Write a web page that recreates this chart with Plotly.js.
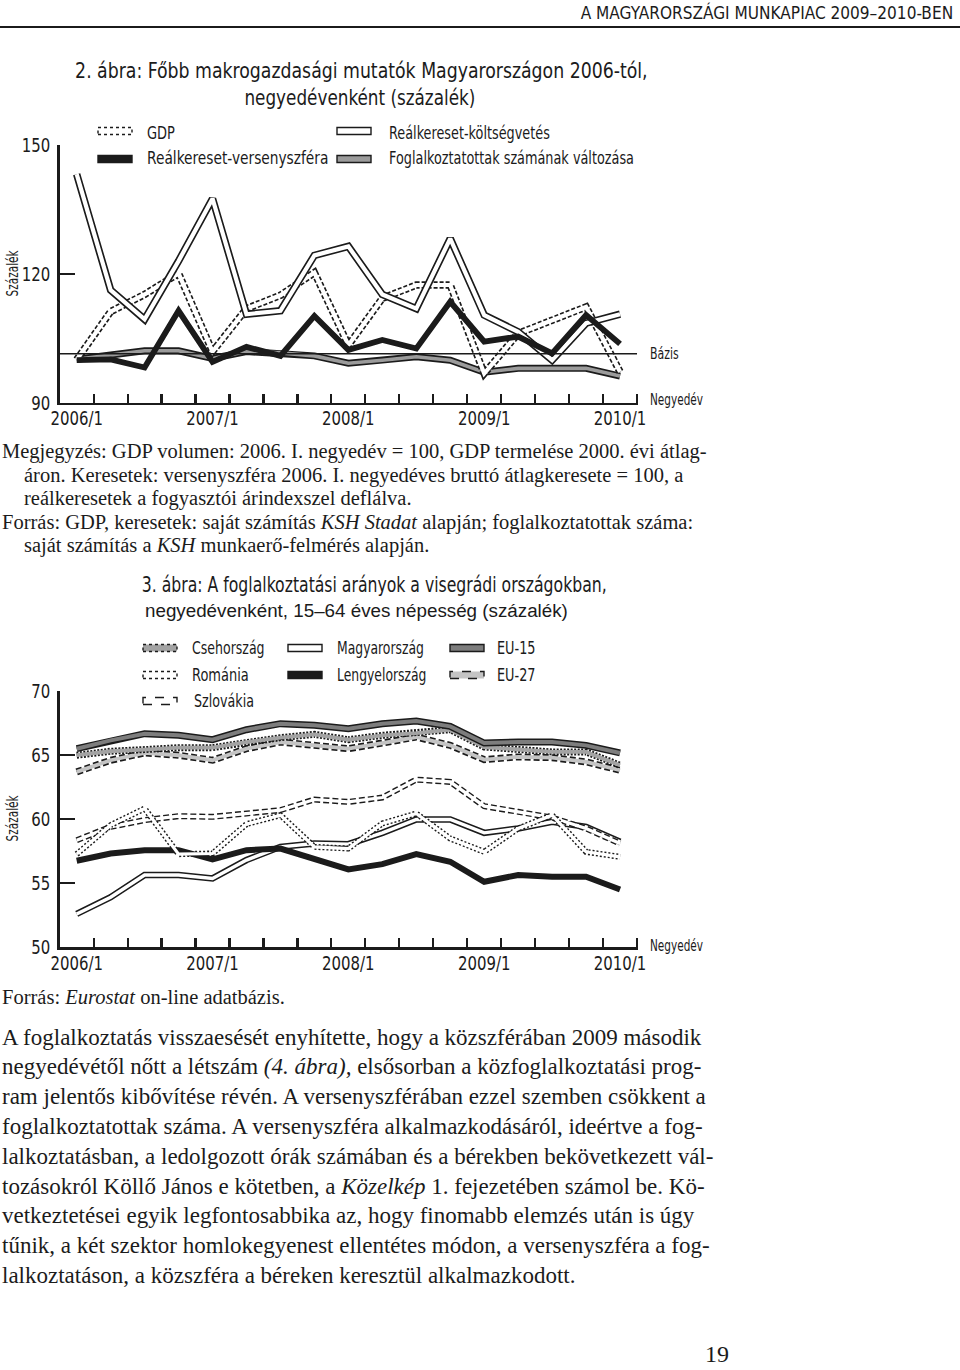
<!DOCTYPE html>
<html><head><meta charset="utf-8">
<script src="https://cdn.plot.ly/plotly-3.0.1.min.js"></script>
<style>html,body{margin:0;padding:0;background:#fff}#chart{width:960px;height:1370px}</style>
</head><body><div id="chart"></div>
<script>
// ---- DATA ----
const quarters = ['2006/1','2006/2','2006/3','2006/4','2007/1','2007/2','2007/3','2007/4','2008/1','2008/2','2008/3','2008/4','2009/1','2009/2','2009/3','2009/4','2010/1'];
// 2. ábra
const gdp        = [100.0, 111.2, 115.2, 120.1, 101.9, 111.9, 115.0, 120.3, 103.4, 114.3, 117.4, 117.4, 96.8, 106.1, 109.2, 112.3, 97.2];
const berVerseny = [99.9, 100.1, 98.2, 111.4, 99.5, 103.0, 100.9, 110.2, 102.3, 104.6, 102.6, 113.5, 104.2, 105.4, 101.5, 110.4, 103.7];
const berKoltseg = [143.2, 116.2, 109.4, 123.0, 137.5, 110.6, 111.4, 124.3, 126.4, 115.2, 111.9, 128.2, 110.4, 106.5, 99.9, 108.5, 110.6];
const foglalk    = [100.1, 101.1, 102.1, 102.1, 100.3, 101.9, 101.6, 100.9, 99.2, 99.9, 100.7, 99.9, 97.1, 98.0, 98.0, 98.0, 96.2];
const bazis = 101.4;
// 3. ábra
const csehorszag   = [64.97, 65.28, 65.41, 65.56, 65.56, 66.0, 66.34, 66.6, 66.18, 66.52, 66.7, 66.96, 65.61, 65.41, 65.23, 65.23, 64.19];
const romania      = [57.26, 59.52, 60.82, 57.26, 57.31, 59.6, 60.3, 57.83, 57.7, 59.65, 60.43, 58.48, 57.44, 59.26, 60.3, 57.44, 57.05];
const szlovakia    = [58.35, 59.39, 59.91, 60.22, 60.17, 60.43, 60.69, 61.52, 61.33, 61.67, 63.07, 62.89, 61.0, 60.56, 60.11, 59.26, 58.09];
const magyarorszag = [52.6, 53.9, 55.63, 55.63, 55.37, 56.8, 57.83, 58.09, 58.04, 58.92, 59.96, 59.96, 58.92, 59.26, 59.78, 59.39, 58.22];
const lengyelorszag= [56.75, 57.31, 57.57, 57.57, 56.85, 57.57, 57.7, 56.92, 56.07, 56.48, 57.26, 56.67, 55.11, 55.63, 55.5, 55.5, 54.51];
const eu15         = [65.48, 66.13, 66.65, 66.52, 66.18, 66.96, 67.43, 67.3, 67.04, 67.43, 67.64, 67.22, 65.92, 66.0, 66.0, 65.74, 65.15];
const eu27         = [63.67, 64.58, 65.15, 64.97, 64.58, 65.48, 66.0, 65.74, 65.48, 65.92, 66.39, 65.74, 64.63, 64.84, 64.78, 64.45, 63.8];
const y1Ticks = [90, 120, 150];
const y2Ticks = [50, 55, 60, 65, 70];

// ---- helpers ----
const W = 960, H = 1370;
const px = x => x / W;
const py = y => 1 - y / H;
const SANS = "'Liberation Sans Narrow', 'DejaVu Sans Condensed', 'Arial Narrow', Roboto, sans-serif";
const SANS_REG = "'Liberation Sans', Arial, sans-serif";
const SERIF = "'Liberation Serif', 'DejaVu Serif', serif";
const INK = '#1b1b1b';
const TICK_SX = 0.83;
const xi = quarters.map((q, i) => i);
const yearIdx = xi.filter(i => quarters[i].endsWith('/1'));
const halfTicks = xi.map(i => i + 0.5);

const traces = [];
function single(y, ax, color, width, dash) {
  traces.push({x: xi, y: y, xaxis: ax[0], yaxis: ax[1], mode: 'lines', hoverinfo: 'skip',
    line: {color: color, width: width, dash: dash || 'solid'}});
}
function dbl(y, ax, outerDash, outerW, innerColor, innerW) {
  single(y, ax, INK, outerW, outerDash);
  single(y, ax, innerColor, innerW);
}
const A1 = ['x', 'y'], A2 = ['x2', 'y2'];
// chart 1
dbl(foglalk, A1, 'solid', 7, '#9b9b9b', 3.6);
dbl(gdp, A1, '4px,2px', 7.5, '#ffffff', 4.2);
dbl(berKoltseg, A1, 'solid', 7.5, '#ffffff', 4.2);
single(berVerseny, A1, INK, 5.8);
// chart 2
dbl(eu27, A2, '6px,3px', 7, '#c4c4c4', 3.8);
dbl(csehorszag, A2, '2px,1.5px', 7, '#a3a3a3', 3.8);
dbl(eu15, A2, 'solid', 7, '#7d7d7d', 4);
dbl(magyarorszag, A2, 'solid', 6.5, '#ffffff', 3.4);
single(lengyelorszag, A2, INK, 6);
dbl(szlovakia, A2, '6px,3px', 6, '#ffffff', 3.2);
dbl(romania, A2, '2px,2px', 6, '#ffffff', 3.2);

const tickFont = {family: SANS, size: 20, color: INK};
function xAxis(anchor) {
  return {domain: [px(59.7), px(637.7)], range: [-0.5, 16.52], anchor: anchor,
    tickmode: 'array', tickvals: yearIdx, ticktext: yearIdx.map(i => quarters[i]),
    ticks: '', showline: true, linecolor: INK, linewidth: 2.5, showgrid: false, zeroline: false,
    tickfont: tickFont, ticklabelstandoff: -4,
    minor: {tickmode: 'array', tickvals: halfTicks, ticks: 'inside', ticklen: 9, tickwidth: 2.2, tickcolor: INK, showgrid: false}};
}
function yAxis(anchor, dom, rng, tv) {
  return {domain: dom, range: rng, anchor: anchor, tickmode: 'array', tickvals: tv,
    ticks: 'inside', ticklen: 15, tickwidth: 2.5, tickcolor: INK, showline: true, linecolor: INK, linewidth: 2.5,
    showgrid: false, zeroline: false, tickfont: tickFont, ticklabelstandoff: 3};
}

const shapes = [];
const annotations = [];
const annMeta = [];
function txt(t, x, y, opts) {
  opts = opts || {};
  annotations.push(Object.assign({text: t, x: px(x), y: py(y), xref: 'paper', yref: 'paper', showarrow: false,
    xanchor: opts.xa || 'left', yanchor: 'middle',
    font: {family: opts.family || SANS, size: opts.size || 17, color: INK}}, opts.extra || {}));
  annMeta.push({sx: opts.sx || 1, xa: opts.xa || 'left'});
}
function sym(x0, y, fill, dash, w) {
  shapes.push({type: 'rect', xref: 'paper', yref: 'paper', x0: px(x0), x1: px(x0 + (w || 34)), y0: py(y + 3.5), y1: py(y - 3.5),
    fillcolor: fill, line: {color: INK, width: 1.4, dash: dash || 'solid'}});
}

// header
txt('A MAGYARORSZÁGI MUNKAPIAC 2009–2010-BEN', 955, 12, {xa: 'right', size: 18, sx: 0.95});
shapes.push({type: 'line', xref: 'paper', yref: 'paper', x0: 0, x1: 1, y0: py(27), y1: py(27), line: {color: INK, width: 2}});

// chart 1 title + legend
txt('2. ábra: Főbb makrogazdasági mutatók Magyarországon 2006-tól,', 361, 70, {xa: 'center', size: 22, sx: 0.875});
txt('negyedévenként (százalék)', 360, 97, {xa: 'center', size: 22, sx: 0.85});
sym(98, 131, '#ffffff', 'dot'); txt('GDP', 145, 133, {sx: 0.85});
sym(98, 159, INK, 'solid'); txt('Reálkereset-versenyszféra', 145, 158, {sx: 0.9});
sym(337, 131, '#ffffff', 'solid'); txt('Reálkereset-költségvetés', 387, 133, {sx: 0.84});
sym(337, 159, '#9b9b9b', 'solid'); txt('Foglalkoztatottak számának változása', 387, 158, {sx: 0.84});
txt('Százalék', 12, 273, {xa: 'center', size: 16, sx: 0.73, extra: {textangle: -90}});
txt('Bázis', 648, 353, {size: 16, sx: 0.76});
txt('Negyedév', 648, 400, {size: 16, sx: 0.73});
shapes.push({type: 'line', xref: 'x', yref: 'y', x0: -0.5, x1: 16.5, y0: bazis, y1: bazis, line: {color: INK, width: 1.6}});

// notes
const notes = [
  ['Megjegyzés: GDP volumen: 2006. I. negyedév = 100, GDP termelése 2000. évi átlag-', 0, 451],
  ['áron. Keresetek: versenyszféra 2006. I. negyedéves bruttó átlagkeresete = 100, a', 22, 475],
  ['reálkeresetek a fogyasztói árindexszel deflálva.', 22, 498],
  ['Forrás: GDP, keresetek: saját számítás <i>KSH Stadat</i> alapján; foglalkoztatottak száma:', 0, 522],
  ['saját számítás a <i>KSH</i> munkaerő-felmérés alapján.', 22, 545]
];
notes.forEach(n => txt(n[0], n[1], n[2], {family: SERIF, size: 20.5}));

// chart 2 title + legend
txt('3. ábra: A foglalkoztatási arányok a visegrádi országokban,', 374, 585, {xa: 'center', size: 21, sx: 0.83});
txt('negyedévenként, 15–64 éves népesség (százalék)', 356, 610, {xa: 'center', size: 18.8, family: SANS_REG});
sym(143, 648, '#a3a3a3', 'dot'); txt('Csehország', 190, 648, {sx: 0.82});
sym(143, 675, '#ffffff', 'dot'); txt('Románia', 190, 675, {sx: 0.85});
sym(143, 701, '#ffffff', 'dash'); txt('Szlovákia', 192, 701, {sx: 0.83});
sym(288, 648, '#ffffff', 'solid'); txt('Magyarország', 335, 648, {sx: 0.81});
sym(288, 675, INK, 'solid'); txt('Lengyelország', 335, 675, {sx: 0.81});
sym(450, 648, '#7d7d7d', 'solid'); txt('EU-15', 495, 648, {sx: 0.84});
sym(450, 675, '#c4c4c4', 'dash'); txt('EU-27', 495, 675, {sx: 0.84});
txt('Százalék', 12, 818, {xa: 'center', size: 16, sx: 0.73, extra: {textangle: -90}});
txt('Negyedév', 648, 946, {size: 16, sx: 0.73});
txt('Forrás: <i>Eurostat</i> on-line adatbázis.', 0, 997, {family: SERIF, size: 20.5});

// body text
const body = [
  'A foglalkoztatás visszaesését enyhítette, hogy a közszférában 2009 második',
  'negyedévétől nőtt a létszám <i>(4. ábra),</i> elsősorban a közfoglalkoztatási prog-',
  'ram jelentős kibővítése révén. A versenyszférában ezzel szemben csökkent a',
  'foglalkoztatottak száma. A versenyszféra alkalmazkodásáról, ideértve a fog-',
  'lalkoztatásban, a ledolgozott órák számában és a bérekben bekövetkezett vál-',
  'tozásokról Köllő János e kötetben, a <i>Közelkép</i> 1. fejezetében számol be. Kö-',
  'vetkeztetései egyik legfontosabbika az, hogy finomabb elemzés után is úgy',
  'tűnik, a két szektor homlokegyenest ellentétes módon, a versenyszféra a fog-',
  'lalkoztatáson, a közszféra a béreken keresztül alkalmazkodott.'
];
body.forEach((b, k) => txt(b, 0, 1037 + 29.8 * k, {family: SERIF, size: 23}));
txt('19', 717, 1354, {xa: 'center', family: SERIF, size: 24});

const layout = {
  width: W, height: H, margin: {l: 0, r: 0, t: 0, b: 0}, showlegend: false,
  paper_bgcolor: '#ffffff', plot_bgcolor: 'rgba(0,0,0,0)',
  xaxis: xAxis('y'), yaxis: yAxis('x', [py(402.7), py(145)], [90, 150], y1Ticks),
  xaxis2: xAxis('y2'), yaxis2: yAxis('x2', [py(947.3), py(690.7)], [50, 70], y2Ticks),
  shapes: shapes, annotations: annotations
};

// horizontally condense a text element around its left / centre / right edge, keeping its own transform
function squeeze(el, sx, origin) {
  const b = el.getBBox();
  const ax = origin === 'left' ? b.x : (origin === 'right' ? b.x + b.width : b.x + b.width / 2);
  const prev = el.getAttribute('transform') || '';
  el.setAttribute('transform', (prev + ' translate(' + ax + ',0) scale(' + sx + ',1) translate(' + (-ax) + ',0)').trim());
}
Plotly.newPlot('chart', traces, layout, {staticPlot: true, displayModeBar: false}).then(gd => {
  gd.querySelectorAll('g.annotation').forEach(g => {
    const k = +g.getAttribute('data-index');
    const m = annMeta[k];
    if (!m || m.sx === 1) return;
    const t = g.querySelector('text');
    if (t) squeeze(t, m.sx, m.xa === 'right' ? 'right' : (m.xa === 'center' ? 'center' : 'left'));
  });
  gd.querySelectorAll('.xtick text, .x2tick text').forEach(t => squeeze(t, TICK_SX, 'center'));
  gd.querySelectorAll('.ytick text, .y2tick text').forEach(t => squeeze(t, TICK_SX, 'right'));
});
</script></body></html>
